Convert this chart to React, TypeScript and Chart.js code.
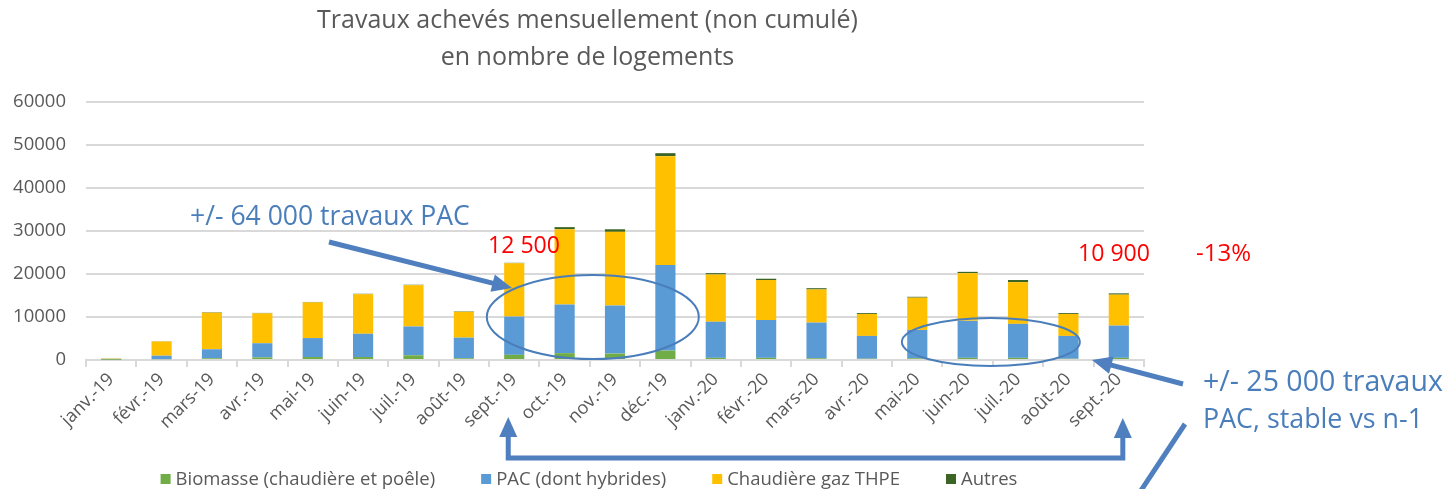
import React, { useEffect, useRef } from "react";
import { Chart, registerables } from "chart.js";

Chart.register(...registerables);

const labels = [
  "janv.-19", "févr.-19", "mars-19", "avr.-19", "mai-19", "juin-19", "juil.-19", "août-19",
  "sept.-19", "oct.-19", "nov.-19", "déc.-19", "janv.-20", "févr.-20", "mars-20", "avr.-20",
  "mai-20", "juin-20", "juil.-20", "août-20", "sept.-20",
];

const biomasse = [100, 200, 400, 600, 700, 700, 1100, 400, 1200, 1600, 1500, 2200, 500, 500, 400, 300, 400, 500, 500, 300, 500];
const pac = [100, 800, 2100, 3300, 4400, 5400, 6700, 4800, 8900, 11300, 11200, 19900, 8400, 8800, 8300, 5300, 6600, 8600, 7900, 5300, 7500];
const gaz = [100, 3300, 8500, 6950, 8300, 9200, 9600, 6000, 12400, 17500, 17100, 25300, 11000, 9300, 7700, 5100, 7500, 11100, 9700, 5100, 7200];
const autres = [50, 50, 100, 100, 100, 100, 100, 100, 100, 500, 600, 700, 300, 300, 300, 200, 200, 300, 500, 200, 300];

const titleLines = ["Travaux achevés mensuellement (non cumulé)", "en nombre de logements"];
const yTicks = [0, 10000, 20000, 30000, 40000, 50000, 60000];

const FONT = "'Open Sans', 'Noto Sans', sans-serif";
const TEXT = "#595959";
const GRID = "#d9d9d9";
const BLUE = "#4A7EBB";
const ARROW = "#4F7FBE";

function fitText(ctx: CanvasRenderingContext2D, text: string, x: number, yMid: number, width: number, color: string) {
  ctx.font = `40px ${FONT}`;
  const w = ctx.measureText(text).width;
  const size = (40 * width) / w;
  ctx.font = `${size}px ${FONT}`;
  ctx.fillStyle = color;
  ctx.textAlign = "left";
  ctx.textBaseline = "middle";
  ctx.fillText(text, x, yMid);
}

function arrowHead(ctx: CanvasRenderingContext2D, x1: number, y1: number, x2: number, y2: number, len = 20, half = 9) {
  const a = Math.atan2(y2 - y1, x2 - x1);
  ctx.beginPath();
  ctx.moveTo(x2, y2);
  ctx.lineTo(x2 - len * Math.cos(a) + half * Math.sin(a), y2 - len * Math.sin(a) - half * Math.cos(a));
  ctx.lineTo(x2 - len * Math.cos(a) - half * Math.sin(a), y2 - len * Math.sin(a) + half * Math.cos(a));
  ctx.closePath();
  ctx.fill();
}

function arrow(ctx: CanvasRenderingContext2D, x1: number, y1: number, x2: number, y2: number) {
  const a = Math.atan2(y2 - y1, x2 - x1);
  ctx.beginPath();
  ctx.moveTo(x1, y1);
  ctx.lineTo(x2 - 16 * Math.cos(a), y2 - 16 * Math.sin(a));
  ctx.stroke();
  arrowHead(ctx, x1, y1, x2, y2);
}

const LEGEND_SIZE = 18.5;
const legendPlugin = {
  id: "customLegend",
  afterDraw(chart: any) {
    const ctx: CanvasRenderingContext2D = chart.ctx;
    const items = chart.data.datasets.map((d: any) => ({ text: d.label, color: d.backgroundColor }));
    ctx.save();
    ctx.font = `${LEGEND_SIZE}px ${FONT}`;
    const gap = 46;
    const widths = items.map((it: any) => 10 + 5 + ctx.measureText(it.text).width);
    const total = widths.reduce((a: number, b: number) => a + b, 0) + gap * (items.length - 1);
    let xx = 589 - total / 2;
    const yy = 479;
    ctx.textBaseline = "middle";
    ctx.textAlign = "left";
    items.forEach((it: any, i: number) => {
      ctx.fillStyle = it.color;
      ctx.fillRect(xx, yy - 5, 10, 10);
      ctx.fillStyle = TEXT;
      ctx.fillText(it.text, xx + 15, yy + 1);
      xx += widths[i] + gap;
    });
    ctx.restore();
  },
};

const annotations = {
  id: "annotations",
  afterDraw(chart: any) {
    const ctx: CanvasRenderingContext2D = chart.ctx;
    const x = chart.scales.x;
    const y = chart.scales.y;
    ctx.save();
    ctx.strokeStyle = BLUE;
    ctx.lineWidth = 2;
    const e1x = (x.getPixelForValue(9) + x.getPixelForValue(10)) / 2 + 3;
    ctx.beginPath();
    ctx.ellipse(e1x, y.getPixelForValue(10000), 106, 42, 0, 0, Math.PI * 2);
    ctx.stroke();
    const e2x = (x.getPixelForValue(17) + x.getPixelForValue(18)) / 2 - 2;
    ctx.beginPath();
    ctx.ellipse(e2x, y.getPixelForValue(4200), 89, 24, 0, 0, Math.PI * 2);
    ctx.stroke();

    ctx.strokeStyle = ARROW;
    ctx.fillStyle = ARROW;
    ctx.lineWidth = 5;
    ctx.lineCap = "butt";
    arrow(ctx, 329, 242, 512, 288);
    arrow(ctx, 1183, 384, 1092, 360);
    const bx1 = x.getPixelForValue(8) - 6;
    const bx2 = x.getPixelForValue(20) + 4;
    ctx.beginPath();
    ctx.moveTo(bx1, 436);
    ctx.lineTo(bx1, 458);
    ctx.lineTo(bx2, 458);
    ctx.lineTo(bx2, 436);
    ctx.stroke();
    arrowHead(ctx, bx1, 458, bx1, 417, 20, 9);
    arrowHead(ctx, bx2, 458, bx2, 418, 20, 9);
    ctx.beginPath();
    ctx.moveTo(1140, 492);
    ctx.lineTo(1185, 424);
    ctx.stroke();

    fitText(ctx, "+/- 64 000 travaux PAC", 190, 217, 280, BLUE);
    fitText(ctx, "12 500", 488, 246, 72, "#FF0000");
    fitText(ctx, "10 900", 1078, 254, 72, "#FF0000");
    fitText(ctx, "-13%", 1196, 254, 55, "#FF0000");
    fitText(ctx, "+/- 25 000 travaux", 1203, 383, 240, BLUE);
    fitText(ctx, "PAC, stable vs n-1", 1203, 420, 220, BLUE);
    ctx.restore();
  },
};

export default function App() {
  const ref = useRef<HTMLCanvasElement>(null);
  useEffect(() => {
    if (!ref.current) return;
    const ds = (label: string, data: number[], color: string) => ({
      label,
      data,
      backgroundColor: color,
      borderWidth: 0,
      barPercentage: 1,
      categoryPercentage: 0.4,
      stack: "s",
    });
    const chart = new Chart(ref.current, {
      type: "bar",
      data: {
        labels,
        datasets: [
          ds("Biomasse (chaudière et poêle)", biomasse, "#70AD47"),
          ds("PAC (dont hybrides)", pac, "#5B9BD5"),
          ds("Chaudière gaz THPE", gaz, "#FFC000"),
          ds("Autres", autres, "#3B6425"),
        ],
      },
      options: {
        responsive: false,
        animation: false,
        devicePixelRatio: 1,
        layout: { padding: { left: 0, right: 273, top: 0, bottom: 0 } },
        plugins: {
          title: {
            display: true,
            text: titleLines,
            color: TEXT,
            font: { family: FONT, size: 25, weight: "normal", lineHeight: 1.46 },
            padding: { top: 3, bottom: 26 },
          },
          legend: { display: false },
          tooltip: { enabled: false },
        },
        scales: {
          x: {
            stacked: true,
            offset: true,
            grid: { display: true, drawOnChartArea: false, drawTicks: true, tickLength: 7, color: GRID, lineWidth: 2, offset: true },
            border: { display: true, color: GRID, width: 2 },
            ticks: { color: TEXT, font: { family: FONT, size: 18 }, minRotation: 45, maxRotation: 45, autoSkip: false, padding: 2 },
            afterFit: (s: any) => { s.height = 129; },
          },
          y: {
            stacked: true,
            min: 0,
            max: 60000,
            afterBuildTicks: (s: any) => { s.ticks = yTicks.map((v) => ({ value: v })); },
            grid: { color: GRID, lineWidth: 2, drawTicks: false },
            border: { display: false },
            ticks: { color: TEXT, font: { family: FONT, size: 18.5 }, padding: 20, callback: (v: any) => String(v) },
            afterFit: (s: any) => { s.width = 86; },
          },
          yR: {
            position: "right",
            display: true,
            min: 0,
            max: 1,
            grid: { display: false },
            border: { display: false },
            ticks: { display: false },
            afterFit: (s: any) => { s.width = 31; },
          },
        },
      },
      plugins: [annotations, legendPlugin],
    });
    return () => chart.destroy();
  }, []);
  return (
    <div style={{ position: "fixed", left: 0, top: 0, width: 1448, height: 489, background: "#fff" }}>
      <canvas ref={ref} width={1448} height={489} style={{ display: "block" }} />
    </div>
  );
}
